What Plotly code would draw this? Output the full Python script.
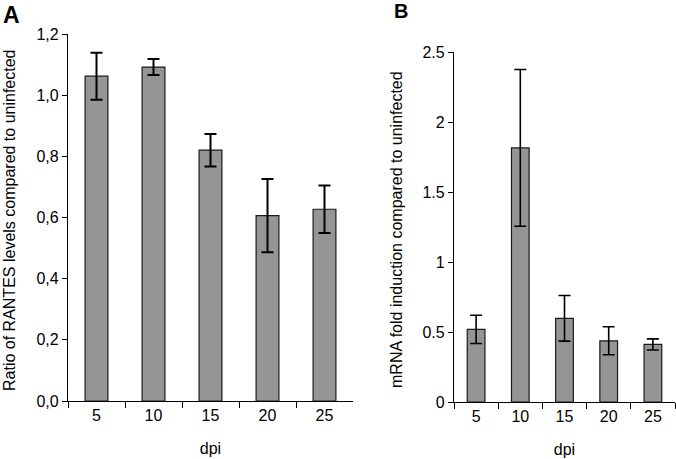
import plotly.graph_objects as go

categories = ["5", "10", "15", "20", "25"]
rantes_values = [1.062, 1.092, 0.820, 0.606, 0.627]
rantes_errors = [0.077, 0.026, 0.053, 0.120, 0.078]
mrna_values = [0.519, 1.815, 0.598, 0.437, 0.411]
mrna_errors = [0.101, 0.560, 0.163, 0.100, 0.040]
rantes_ticks = [0, 0.2, 0.4, 0.6, 0.8, 1.0, 1.2]
rantes_ticklabels = ["0,0", "0,2", "0,4", "0,6", "0,8", "1,0", "1,2"]
mrna_ticks = [0, 0.5, 1, 1.5, 2, 2.5]
mrna_ticklabels = ["0", "0.5", "1", "1.5", "2", "2.5"]

W, H = 676, 459
BAR = "#959595"
EDGE = "#1a1a1a"
FONT = "Liberation Sans, Arial, sans-serif"
FS = 16

fig = go.Figure()
fig.add_trace(go.Bar(
    x=categories, y=rantes_values, width=0.4,
    marker=dict(color=BAR, line=dict(color=EDGE, width=1.2)),
    error_y=dict(type="data", array=rantes_errors, color="#000", thickness=2, width=6),
    xaxis="x", yaxis="y", showlegend=False))
fig.add_trace(go.Bar(
    x=categories, y=mrna_values, width=0.4,
    marker=dict(color=BAR, line=dict(color=EDGE, width=1.2)),
    error_y=dict(type="data", array=mrna_errors, color="#000", thickness=1.6, width=6),
    xaxis="x2", yaxis="y2", showlegend=False))

def px_x(a, b):
    return [a / W, b / W]

def px_y(top, bottom):
    return [(H - bottom) / H, (H - top) / H]

common_x = dict(type="category", range=[-0.5, 4.5], showline=True, linecolor="#000",
                linewidth=1.3, ticks="outside", tickson="boundaries", ticklen=6,
                tickcolor="#000", tickwidth=1.3, showgrid=False, zeroline=False,
                automargin=False,
                tickfont=dict(size=FS, color="#000", family=FONT),
                title=dict(text="dpi", font=dict(size=FS, color="#000", family=FONT), standoff=19))
common_y = dict(showline=True, linecolor="#000", linewidth=1.3, ticks="outside", ticklen=5,
                tickcolor="#000", tickwidth=1.3, showgrid=False, zeroline=False,
                automargin=False,
                tickfont=dict(size=FS, color="#000", family=FONT))

fig.update_layout(
    width=W, height=H, margin=dict(l=0, r=0, t=0, b=0, autoexpand=False),
    paper_bgcolor="white", plot_bgcolor="white",
    font=dict(family=FONT, color="#000"),
    xaxis=dict(domain=px_x(68, 353), anchor="y", **common_x),
    yaxis=dict(domain=px_y(34, 401), anchor="x", range=[0, 1.2],
               tickvals=rantes_ticks, ticktext=rantes_ticklabels, **common_y),
    xaxis2=dict(domain=px_x(454, 675), anchor="y2", **common_x),
    yaxis2=dict(domain=px_y(52, 402), anchor="x2", range=[0, 2.5],
                tickvals=mrna_ticks, ticktext=mrna_ticklabels, **common_y),
    annotations=[
        dict(text="Ratio of RANTES levels compared to uninfected", textangle=-90,
             x=9 / W, y=1 - 220 / H, xref="paper", yref="paper",
             xanchor="center", yanchor="middle", showarrow=False,
             font=dict(size=16, color="#000", family=FONT)),
        dict(text="mRNA fold induction compared to uninfected", textangle=-90,
             x=397 / W, y=1 - 229 / H, xref="paper", yref="paper",
             xanchor="center", yanchor="middle", showarrow=False,
             font=dict(size=FS, color="#000", family=FONT)),
        dict(text="<b>A</b>", x=1 / W, y=1 - 0 / H, xref="paper", yref="paper",
             xanchor="left", yanchor="top", showarrow=False,
             font=dict(size=23, color="#000", family=FONT)),
        dict(text="<b>B</b>", x=392 / W, y=1 + 2 / H, xref="paper", yref="paper",
             xanchor="left", yanchor="top", showarrow=False,
             font=dict(size=20, color="#000", family=FONT)),
    ],
)

fig.write_html("out.html", config={"displayModeBar": False},
               post_script="document.body.style.margin='0';document.body.style.overflow='hidden';")
